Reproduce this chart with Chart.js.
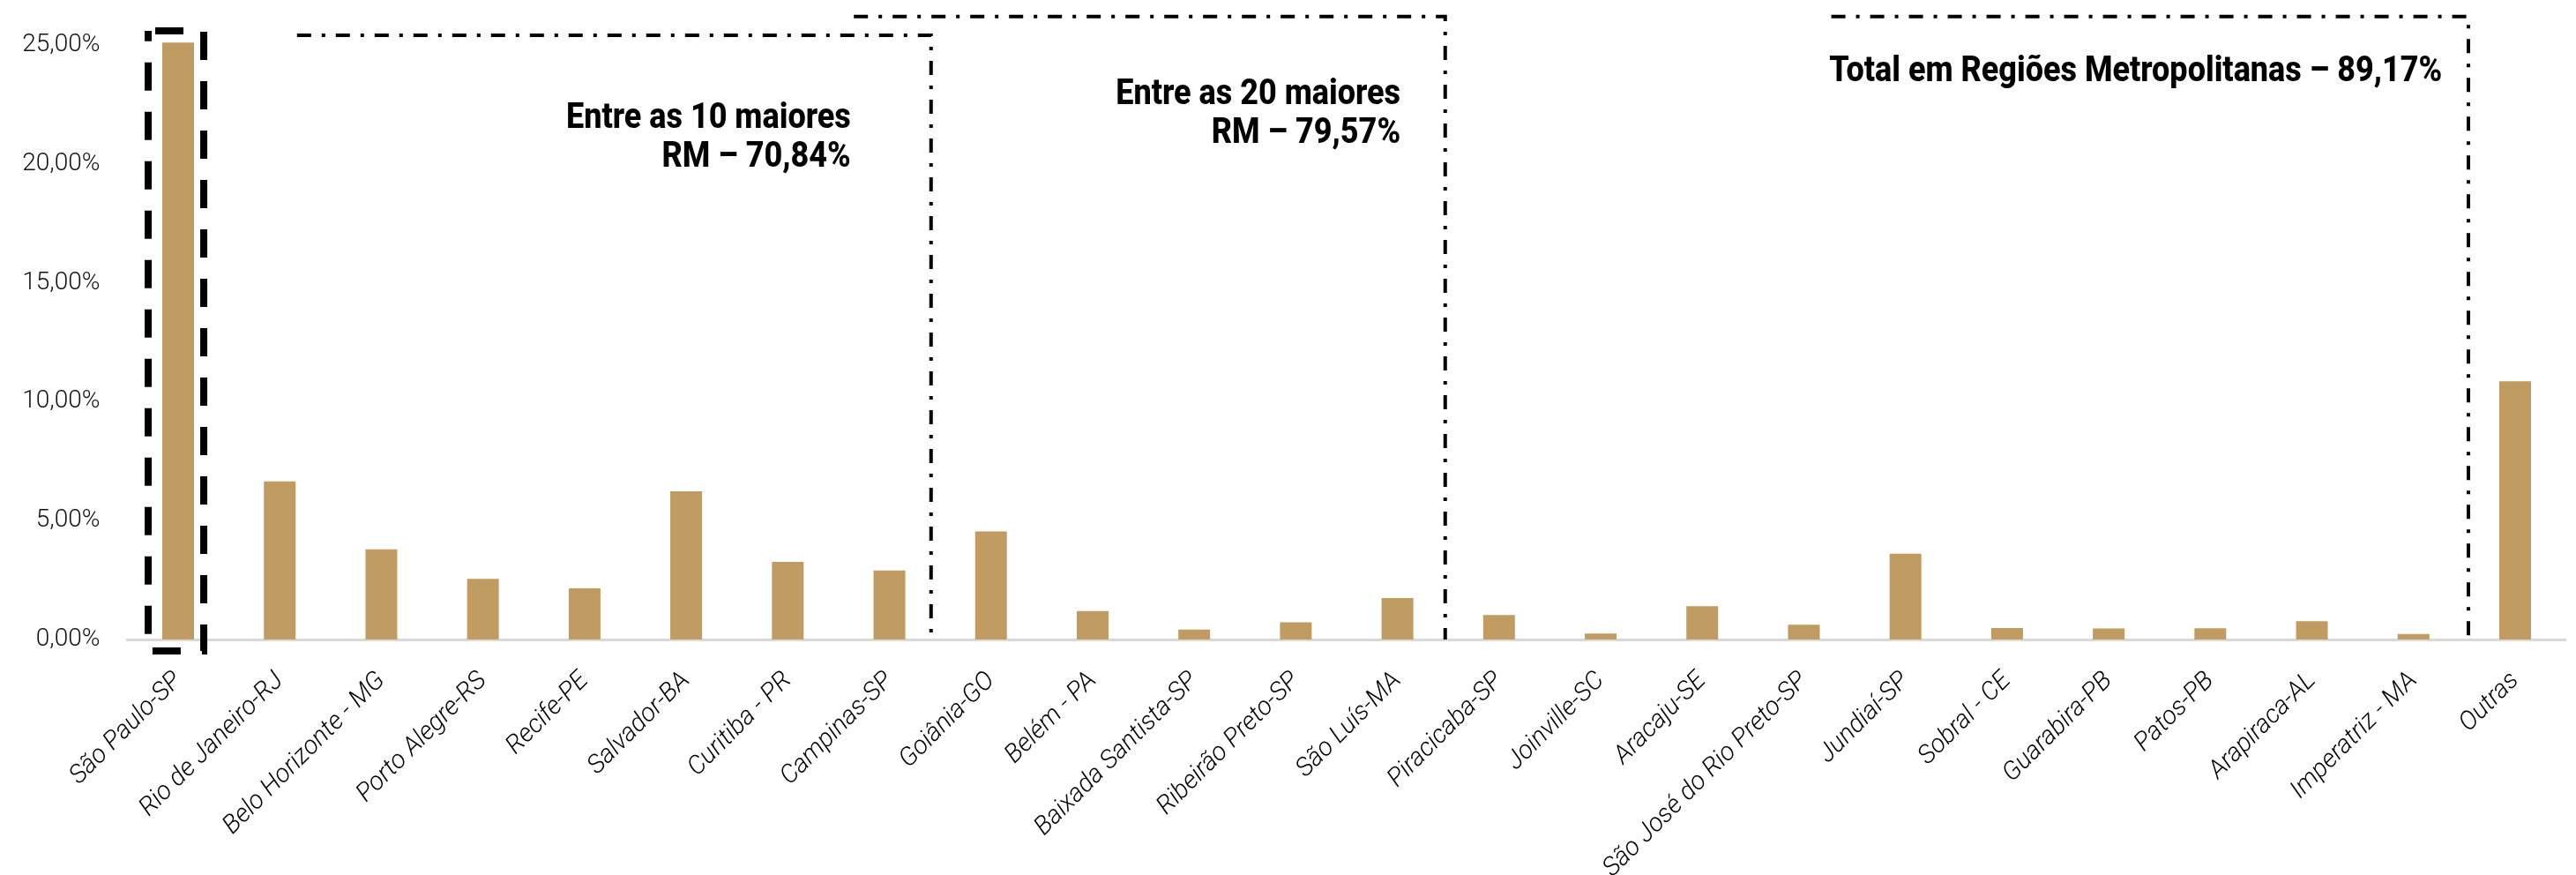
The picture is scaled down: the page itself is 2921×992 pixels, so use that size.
<!DOCTYPE html>
<html lang="pt-BR">
<head>
<meta charset="utf-8">
<title>Participação por Região Metropolitana</title>
<script src="https://cdn.jsdelivr.net/npm/chart.js@4"></script>
<style>
  html, body { margin: 0; padding: 0; background: #fff; }
  #wrap { width: 2921px; height: 992px; }
</style>
</head>
<body>
<div id="wrap"><canvas id="myChart" width="2921" height="992"></canvas></div>
<script>
"use strict";

// Regiões metropolitanas (eixo X)
const regioes = [
    "São Paulo-SP", "Rio de Janeiro-RJ", "Belo Horizonte - MG", "Porto Alegre-RS",
    "Recife-PE", "Salvador-BA", "Curitiba - PR", "Campinas-SP", "Goiânia-GO",
    "Belém - PA", "Baixada Santista-SP", "Ribeirão Preto-SP", "São Luís-MA",
    "Piracicaba-SP", "Joinville-SC", "Aracaju-SE", "São José do Rio Preto-SP",
    "Jundiaí-SP", "Sobral - CE", "Guarabira-PB", "Patos-PB", "Arapiraca-AL",
    "Imperatriz - MA", "Outras",
];

// Participação (%)
const participacao = [
    25.10, 6.65, 3.79, 2.55, 2.15, 6.23, 3.26, 2.90, 4.54,
    1.20, 0.42, 0.72, 1.74, 1.03, 0.25, 1.40, 0.62,
    3.61, 0.48, 0.46, 0.47, 0.77, 0.23, 10.86,
];

// Marcas do eixo Y
const yTicks = [0, 5, 10, 15, 20, 25];

// Textos dos destaques
const textoTop10 = ["Entre as 10 maiores", "RM – 70,84%"];
const textoTop20 = ["Entre as 20 maiores", "RM – 79,57%"];
const textoTotal = ["Total em Regiões Metropolitanas – 89,17%"];

const fmtPct = (v) => v.toFixed(2).replace(".", ",") + "%";

// Caixas tracejadas e textos por cima das barras
const destaques = {
    id: "destaques",
    afterDatasetsDraw(chart) {
        const { ctx } = chart;
        const x = chart.scales.x;
        const y = chart.scales.y;
        ctx.save();
        ctx.strokeStyle = "#000";

        // São Paulo
        ctx.lineWidth = 8;
        ctx.setLineDash([32, 24]);
        ctx.lineDashOffset = -8;
        const l = x.getPixelForValue(-0.295);
        const r = x.getPixelForValue(0.252);
        const t = y.getPixelForValue(25.59);
        const b = y.getPixelForValue(-0.48);
        ctx.strokeRect(l, t, r - l, b - t);

        // traço-ponto
        ctx.lineWidth = 4;
        ctx.setLineDash([16, 12, 4, 12]);
        ctx.lineDashOffset = 0;
        const cantos = [
            [1.17, 7.41, 25.41],
            [6.65, 12.47, 26.2],
            [16.27, 22.54, 26.2],
        ];
        cantos.forEach(([i0, i1, v]) => {
            ctx.beginPath();
            ctx.moveTo(x.getPixelForValue(i0), y.getPixelForValue(v));
            ctx.lineTo(x.getPixelForValue(i1), y.getPixelForValue(v));
            ctx.lineTo(x.getPixelForValue(i1), y.getPixelForValue(0));
            ctx.stroke();
        });

        // textos
        ctx.setLineDash([]);
        ctx.fillStyle = "#000";
        ctx.font = "800 40px Roboto, 'Liberation Sans', sans-serif";
        ctx.textBaseline = "alphabetic";
        const escrever = (linhas, idx, vals, align) => {
            linhas.forEach((s, k) => {
                ctx.save();
                ctx.translate(x.getPixelForValue(idx), y.getPixelForValue(vals[k]));
                ctx.scale(0.9, 1);
                ctx.textAlign = align;
                ctx.fillText(s, 0, 0);
                ctx.restore();
            });
        };
        escrever(textoTop10, 6.62, [21.51, 19.88], "right");
        escrever(textoTop20, 12.03, [22.51, 20.88], "right");
        escrever(textoTotal, 16.25, [23.48], "left");

        ctx.restore();
    },
};

const data = {
    labels: regioes,
    datasets: [
        {
            label: "Participação",
            data: participacao,
            backgroundColor: "#C09B62",
            barPercentage: 0.3125,
            categoryPercentage: 1.0,
            clip: false,
        },
    ],
};

const config = {
    type: "bar",
    data: data,
    options: {
        responsive: false,
        animation: false,
        layout: { padding: { top: 51, right: 11.4, bottom: 0, left: 0 } },
        plugins: {
            legend: { display: false },
            tooltip: { enabled: false },
        },
        scales: {
            x: {
                grid: { drawOnChartArea: false, drawTicks: false },
                border: { display: true, color: "#D9D9D9", width: 3 },
                ticks: {
                    autoSkip: false,
                    maxRotation: 45,
                    minRotation: 45,
                    padding: 30,
                    color: "#000",
                    font: { family: "Roboto", size: 29, style: "italic", weight: "300" },
                },
                afterFit(scale) {
                    scale.height = 267;
                },
            },
            y: {
                min: 0,
                max: 25,
                afterBuildTicks(scale) {
                    scale.ticks = yTicks.map((v) => ({ value: v }));
                },
                grid: { display: false, drawTicks: false },
                border: { display: false },
                ticks: {
                    padding: 31,
                    color: "#111",
                    font: { family: "Roboto", size: 28, weight: "300" },
                    callback: (v) => fmtPct(v),
                },
                afterFit(scale) {
                    scale.width = 144.4;
                },
            },
        },
    },
    plugins: [destaques],
};

const myChart = new Chart(document.getElementById("myChart"), config);
</script>
</body>
</html>
